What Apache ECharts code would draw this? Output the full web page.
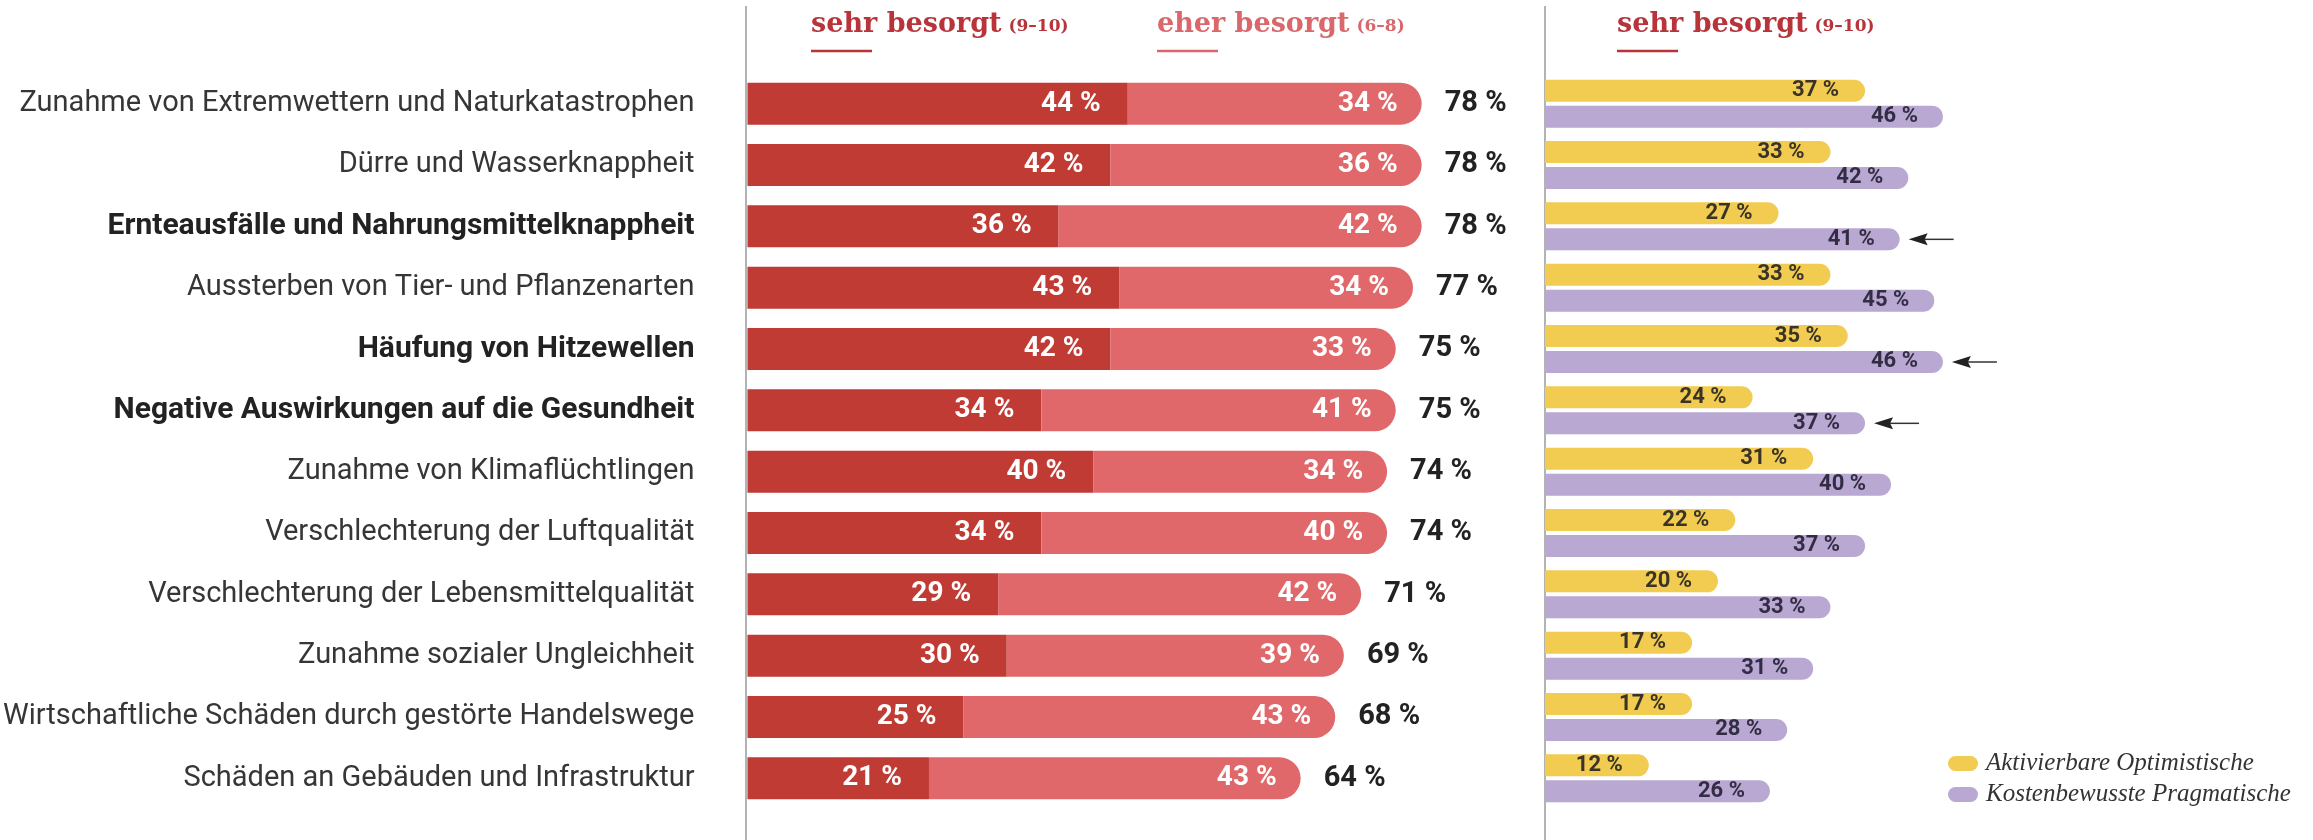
<!DOCTYPE html>
<html>
<head>
<meta charset="utf-8">
<script src="https://cdn.jsdelivr.net/npm/echarts@6/dist/echarts.min.js"></script>
<style>
  html, body { margin: 0; padding: 0; background: #ffffff; }
  #chart { width: 2313px; height: 840px; }
</style>
</head>
<body>
<div id="chart"></div>
<script>
const categories = [
  'Zunahme von Extremwettern und Naturkatastrophen',
  'Dürre und Wasserknappheit',
  'Ernteausfälle und Nahrungsmittelknappheit',
  'Aussterben von Tier- und Pflanzenarten',
  'Häufung von Hitzewellen',
  'Negative Auswirkungen auf die Gesundheit',
  'Zunahme von Klimaflüchtlingen',
  'Verschlechterung der Luftqualität',
  'Verschlechterung der Lebensmittelqualität',
  'Zunahme sozialer Ungleichheit',
  'Wirtschaftliche Schäden durch gestörte Handelswege',
  'Schäden an Gebäuden und Infrastruktur'
];
const sehrBesorgt = [44, 42, 36, 43, 42, 34, 40, 34, 29, 30, 25, 21];
const eherBesorgt = [34, 36, 42, 34, 33, 41, 34, 40, 42, 39, 43, 43];
const gesamt = [78, 78, 78, 77, 75, 75, 74, 74, 71, 69, 68, 64];
const optimistische = [37, 33, 27, 33, 35, 24, 31, 22, 20, 17, 17, 12];
const pragmatische = [46, 42, 41, 45, 46, 37, 40, 37, 33, 31, 28, 26];
const hervorgehoben = [2, 4, 5];
const seriesNames = ['sehr besorgt', 'eher besorgt', 'Aktivierbare Optimistische', 'Kostenbewusste Pragmatische'];

const C_DARK = '#c13b35';
const C_LIGHT = '#e1686a';
const C_YELLOW = '#f2cc50';
const C_PURPLE = '#b9a8d1';
const H_DARK = '#b8333a';
const H_LIGHT = '#d9676b';

function textWidth(font, text) {
  const ctx = document.createElement('canvas').getContext('2d');
  ctx.font = font;
  return ctx.measureText(text).width;
}

const BIG = 'bold 27px "DejaVu Serif"';
const SMALL = 'bold 17px "DejaVu Serif"';
function header(x, main, sub, color) {
  const w = textWidth(BIG, main);
  return [
    { type: 'text', left: x, top: 11, style: { text: main, font: BIG, fill: color } },
    { type: 'text', left: x + w + 7, top: 18, style: { text: sub, font: SMALL, fill: color } },
    { type: 'line', shape: { x1: x, y1: 51, x2: x + 61, y2: 51 }, style: { stroke: color, lineWidth: 2.5 } }
  ];
}

const pct = p => p.value + ' %';
const rowIdx = hervorgehoben;

const chart = echarts.init(document.getElementById('chart'), null, { renderer: 'canvas' });
chart.setOption({
  animation: false,
  backgroundColor: '#ffffff',
  graphic: [
    { type: 'line', shape: { x1: 746, y1: 6, x2: 746, y2: 840 }, style: { stroke: '#9a9a9a', lineWidth: 1.5 } },
    { type: 'line', shape: { x1: 1545, y1: 6, x2: 1545, y2: 840 }, style: { stroke: '#9a9a9a', lineWidth: 1.5 } },
    ...header(811, 'sehr besorgt', '(9–10)', H_DARK),
    ...header(1157, 'eher besorgt', '(6–8)', H_LIGHT),
    ...header(1617, 'sehr besorgt', '(9–10)', H_DARK)
  ],
  legend: {
    data: [seriesNames[2], seriesNames[3]],
    orient: 'vertical',
    left: 1943,
    top: 746,
    itemWidth: 30,
    itemHeight: 15,
    itemGap: 6,
    icon: 'path://M7.5,0 H22.5 A7.5,7.5 0 0 1 22.5,15 H7.5 A7.5,7.5 0 0 1 7.5,0 Z',
    textStyle: { fontFamily: '"Liberation Serif"', fontStyle: 'italic', fontSize: 25, color: '#333', padding: [0, 0, 0, 3] },
    selectedMode: false
  },
  grid: [
    { left: 746, top: 73, width: 779.4, height: 736 },
    { left: 1545, top: 73, width: 432.5, height: 736 }
  ],
  xAxis: [
    { gridIndex: 0, type: 'value', min: 0, max: 90, show: false },
    { gridIndex: 1, type: 'value', min: 0, max: 50, show: false }
  ],
  yAxis: [
    {
      gridIndex: 0, type: 'category', data: categories, inverse: true,
      axisLine: { show: false }, axisTick: { show: false },
      axisLabel: {
        margin: 53,
        formatter: (v, i) => rowIdx.includes(i) ? '{b|' + v + '}' : '{n|' + v + '}',
        rich: {
          n: { fontFamily: 'Roboto', fontSize: 29, color: '#363636' },
          b: { fontFamily: 'Roboto', fontSize: 30, fontWeight: 'bold', color: '#222' }
        }
      }
    },
    { gridIndex: 1, type: 'category', data: categories, inverse: true, show: false }
  ],
  series: [
    {
      name: seriesNames[0], type: 'bar', stack: 'l', xAxisIndex: 0, yAxisIndex: 0,
      data: sehrBesorgt, barWidth: 42, barGap: '-100%',
      itemStyle: { color: C_DARK },
      label: { show: true, position: 'insideRight', distance: 27, formatter: pct,
        color: '#fff', fontFamily: 'Roboto', fontWeight: 'bold', fontSize: 28 }
    },
    {
      name: seriesNames[1], type: 'bar', stack: 'l', xAxisIndex: 0, yAxisIndex: 0,
      data: eherBesorgt, barWidth: 42, barGap: '-100%',
      itemStyle: { color: C_LIGHT, borderRadius: [0, 21, 21, 0] },
      label: { show: true, position: 'insideRight', distance: 24, formatter: pct,
        color: '#fff', fontFamily: 'Roboto', fontWeight: 'bold', fontSize: 28 }
    },
    {
      name: 'gesamt', type: 'bar', xAxisIndex: 0, yAxisIndex: 0,
      data: gesamt, barWidth: 42, barGap: '-100%', silent: true,
      itemStyle: { color: 'rgba(0,0,0,0)' },
      label: { show: true, position: 'right', distance: 23, formatter: pct,
        color: '#222', fontFamily: 'Roboto', fontWeight: 'bold', fontSize: 29 }
    },
    {
      name: seriesNames[2], type: 'bar', xAxisIndex: 1, yAxisIndex: 1,
      data: optimistische, barWidth: 22, barGap: '18%',
      itemStyle: { color: C_YELLOW, borderRadius: [0, 11, 11, 0] },
      label: { show: true, position: 'insideRight', distance: 26, formatter: pct,
        color: '#3a3327', fontFamily: 'Roboto', fontWeight: 'bold', fontSize: 22 }
    },
    {
      name: seriesNames[3], type: 'bar', xAxisIndex: 1, yAxisIndex: 1,
      data: pragmatische, barWidth: 22, barGap: '18%',
      itemStyle: { color: C_PURPLE, borderRadius: [0, 11, 11, 0] },
      label: { show: true, position: 'insideRight', distance: 25, formatter: pct,
        color: '#322d45', fontFamily: 'Roboto', fontWeight: 'bold', fontSize: 22 }
    },
    {
      name: 'pfeile', type: 'custom', xAxisIndex: 1, yAxisIndex: 1, clip: false, silent: true,
      data: hervorgehoben.map(i => [pragmatische[i], i]),
      encode: { x: 0, y: 1 },
      renderItem: (params, api) => {
        const p = api.coord([api.value(0), api.value(1)]);
        const y = p[1] + 13;
        const tip = p[0] + 9;
        return {
          type: 'group',
          children: [
            { type: 'line', shape: { x1: tip + 14, y1: y, x2: tip + 45, y2: y }, style: { stroke: '#333', lineWidth: 1.5 } },
            { type: 'polygon', shape: { points: [[tip, y], [tip + 19, y - 6], [tip + 16, y], [tip + 19, y + 6]] }, style: { fill: '#222' } }
          ]
        };
      }
    }
  ]
});
</script>
</body>
</html>
